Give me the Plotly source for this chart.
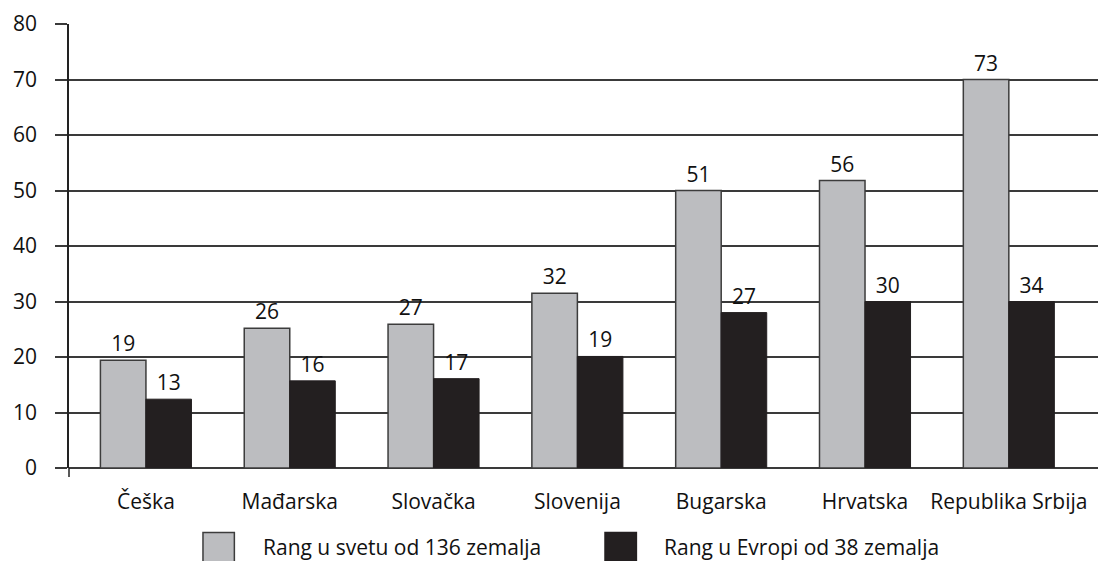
import plotly.graph_objects as go

categories = ["Češka", "Mađarska", "Slovačka", "Slovenija", "Bugarska", "Hrvatska", "Republika Srbija"]
series_names = ["Rang u svetu od 136 zemalja", "Rang u Evropi od 38 zemalja"]
world_values = [19.4, 25.2, 25.9, 31.5, 50.0, 51.8, 70.0]
world_labels = ["19", "26", "27", "32", "51", "56", "73"]
europe_values = [12.4, 15.7, 16.1, 20.1, 28.0, 30.0, 30.0]
europe_labels = ["13", "16", "17", "19", "27", "30", "34"]
y_ticks = [0, 10, 20, 30, 40, 50, 60, 70, 80]

FONT = "Open Sans"
FS = 21
colors = ["#BCBDC0", "#231F20"]
outlines = ["#3c3c3c", "#231F20"]

fig = go.Figure()
fig.add_trace(go.Bar(
    x=categories, y=world_values, name=series_names[0],
    text=world_labels, textposition="outside", cliponaxis=False,
    textfont=dict(size=FS, color="#111111", family=FONT),
    marker=dict(color=colors[0], line=dict(color=outlines[0], width=1.5)),
))
fig.add_trace(go.Bar(
    x=categories, y=europe_values, name=series_names[1],
    text=europe_labels, textposition="outside", cliponaxis=False,
    textfont=dict(size=FS, color="#111111", family=FONT),
    marker=dict(color=colors[1], line=dict(color=outlines[1], width=1)),
))

fig.update_layout(
    width=1098, height=561,
    margin=dict(l=69, r=0, t=24, b=93, autoexpand=False),
    paper_bgcolor="white", plot_bgcolor="white",
    barmode="group", bargap=0.367, bargroupgap=0,
    font=dict(family=FONT, size=FS, color="#111111"),
    showlegend=False,
    uniformtext=dict(minsize=FS, mode="show"),
    xaxis=dict(range=[-0.535, 6.62], showgrid=False, ticks="", showline=False,
               ticklabelstandoff=19, tickfont=dict(size=FS, family=FONT), automargin=False),
    yaxis=dict(range=[0, 80], tickvals=y_ticks, showgrid=True, gridcolor="#3a3a3a", gridwidth=1.5,
               ticks="outside", ticklen=12, tickcolor="#3a3a3a", tickwidth=1.5,
               showline=True, linecolor="#222222", linewidth=1.5,
               zeroline=True, zerolinecolor="#3a3a3a", zerolinewidth=1.5,
               ticklabelstandoff=14, tickfont=dict(size=FS, family=FONT), automargin=False),
)
fig.add_shape(type="line", xref="paper", yref="paper", x0=0, x1=0, y0=0, y1=-0.02,
              line=dict(color="#222222", width=1.5))

# legend drawn manually (large square keys as in the reference)
legend_pos = [(0.1302, 0.1876), (0.5209, 0.5773)]
for name, col, oc, (sx, tx) in zip(series_names, colors, outlines, legend_pos):
    fig.add_shape(type="rect", xref="paper", yref="paper", x0=sx, x1=sx + 0.0305,
                  y0=-0.215, y1=-0.1455, fillcolor=col, line=dict(color=oc, width=1.5))
    fig.add_annotation(xref="paper", yref="paper", x=tx, y=-0.1775, xanchor="left",
                       yanchor="middle", text=name, showarrow=False, borderpad=0,
                       font=dict(size=FS, family=FONT, color="#111111"))

fig.write_html("out.html", config={"displayModeBar": False},
               post_script="document.body.style.margin='0';")
